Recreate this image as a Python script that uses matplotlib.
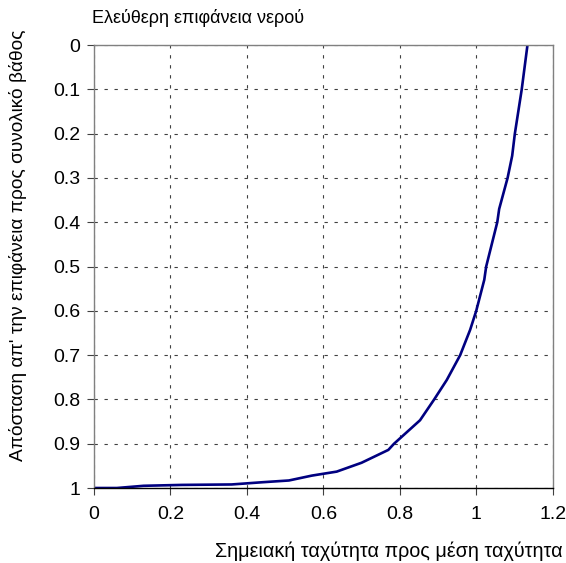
import matplotlib
matplotlib.use("Agg")
import matplotlib.pyplot as plt

speed_ratio = [0.0, 0.06, 0.13, 0.23, 0.36, 0.44, 0.51, 0.57, 0.635, 0.70, 0.77, 0.785,
               0.853, 0.89, 0.923, 0.958, 0.984, 1.0, 1.021, 1.026, 1.055, 1.06, 1.082,
               1.094, 1.101, 1.119, 1.134]
depth_ratio = [1.0, 1.0, 0.995, 0.993, 0.992, 0.987, 0.983, 0.972, 0.963, 0.943, 0.914, 0.90,
               0.847, 0.80, 0.756, 0.70, 0.643, 0.60, 0.53, 0.50, 0.40, 0.37, 0.30,
               0.25, 0.20, 0.10, 0.0]
x_ticks = [0, 0.2, 0.4, 0.6, 0.8, 1, 1.2]
x_labels = ["0", "0.2", "0.4", "0.6", "0.8", "1", "1.2"]
y_ticks = [0, 0.1, 0.2, 0.3, 0.4, 0.5, 0.6, 0.7, 0.8, 0.9, 1]
y_labels = ["0", "0.1", "0.2", "0.3", "0.4", "0.5", "0.6", "0.7", "0.8", "0.9", "1"]

plt.rcParams['font.family'] = ['Liberation Sans', 'DejaVu Sans']

fig = plt.figure(figsize=(5.66, 5.63), dpi=100)
ax = fig.add_axes([0.166, 0.1332, 0.8105, 0.7868])

ax.plot(speed_ratio, depth_ratio, color='#000080', lw=1.9, solid_joinstyle='round')

ax.set_xlim(0, 1.2)
ax.set_ylim(1, 0)
ax.set_xticks(x_ticks)
ax.set_xticklabels(x_labels)
ax.set_yticks(y_ticks)
ax.set_yticklabels(y_labels)
ax.tick_params(axis='both', labelsize=14, direction='out', length=5, width=0.8,
               color='#404040', pad=5)
ax.tick_params(axis='x', pad=8)

ax.grid(True, color='#404040', linestyle=(0, (3, 6)), linewidth=0.8)
for side in ['top', 'right', 'left']:
    ax.spines[side].set_color('#808080')
    ax.spines[side].set_linewidth(1.0)
ax.spines['bottom'].set_color('#000000')
ax.spines['bottom'].set_linewidth(1.0)

fig.text(92 / 566, 1 - 18 / 563, "Ελεύθερη επιφάνεια νερού", fontsize=13,
         ha='left', va='center')
fig.text(18 / 566, 1 - 245 / 563, "Απόσταση απ' την επιφάνεια προς συνολικό βάθος",
         fontsize=13.8, rotation=90, ha='center', va='center')
fig.text(563 / 566, 1 - 551 / 563, "Σημειακή ταχύτητα προς μέση ταχύτητα", fontsize=14.2,
         ha='right', va='center')

fig.savefig("out.png", dpi=100, facecolor='white')
